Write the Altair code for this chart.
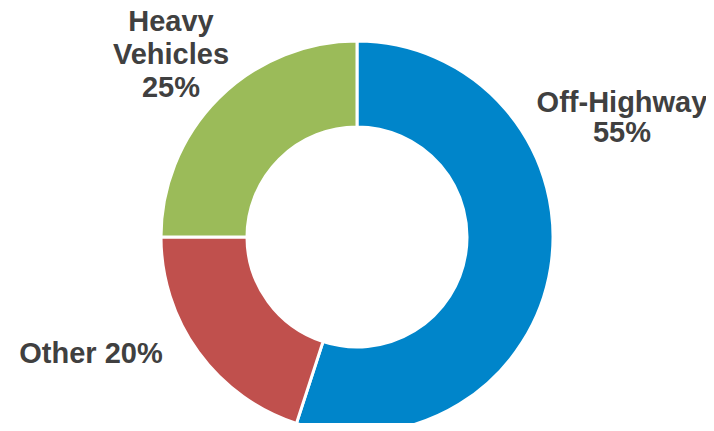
import altair as alt
import pandas as pd

categories = ["Off-Highway", "Other", "Heavy Vehicles"]
shares = [55, 20, 25]
colors = ["#0085CA", "#C0504D", "#9BBB59"]
label_texts = ["Off-Highway\n55%", "Other 20%", "Heavy\nVehicles\n25%"]

df = pd.DataFrame({
    "category": categories,
    "share": shares,
    "order": list(range(len(categories))),
    "label": label_texts,
})

CX, CY = 349, 229

base = alt.Chart(df)

donut = base.mark_arc(outerRadius=196, innerRadius=110, stroke="white", strokeWidth=3).encode(
    theta=alt.Theta("share:Q", stack=True),
    order=alt.Order("order:Q"),
    color=alt.Color("category:N", scale=alt.Scale(domain=categories, range=colors), legend=None),
    x=alt.value(CX),
    y=alt.value(CY),
)

text_style = dict(font="Liberation Sans", fontWeight="bold", fontSize=29, color="#404040",
                  align="center", baseline="alphabetic", lineBreak="\n")

lab_off = base.transform_filter(alt.datum.category == "Off-Highway").mark_text(
    lineHeight=30, **text_style).encode(text="label:N", x=alt.value(614), y=alt.value(104))
lab_other = base.transform_filter(alt.datum.category == "Other").mark_text(
    lineHeight=30, **text_style).encode(text="label:N", x=alt.value(83), y=alt.value(355))
lab_heavy = base.transform_filter(alt.datum.category == "Heavy Vehicles").mark_text(
    lineHeight=33, **text_style).encode(text="label:N", x=alt.value(163), y=alt.value(23))

chart = alt.layer(donut, lab_off, lab_other, lab_heavy).properties(
    width=698, height=415, padding=0, autosize=alt.AutoSizeParams(type="none")
).configure_view(stroke=None)

chart.save("out.html", embed_options={"renderer": "svg", "actions": False})
